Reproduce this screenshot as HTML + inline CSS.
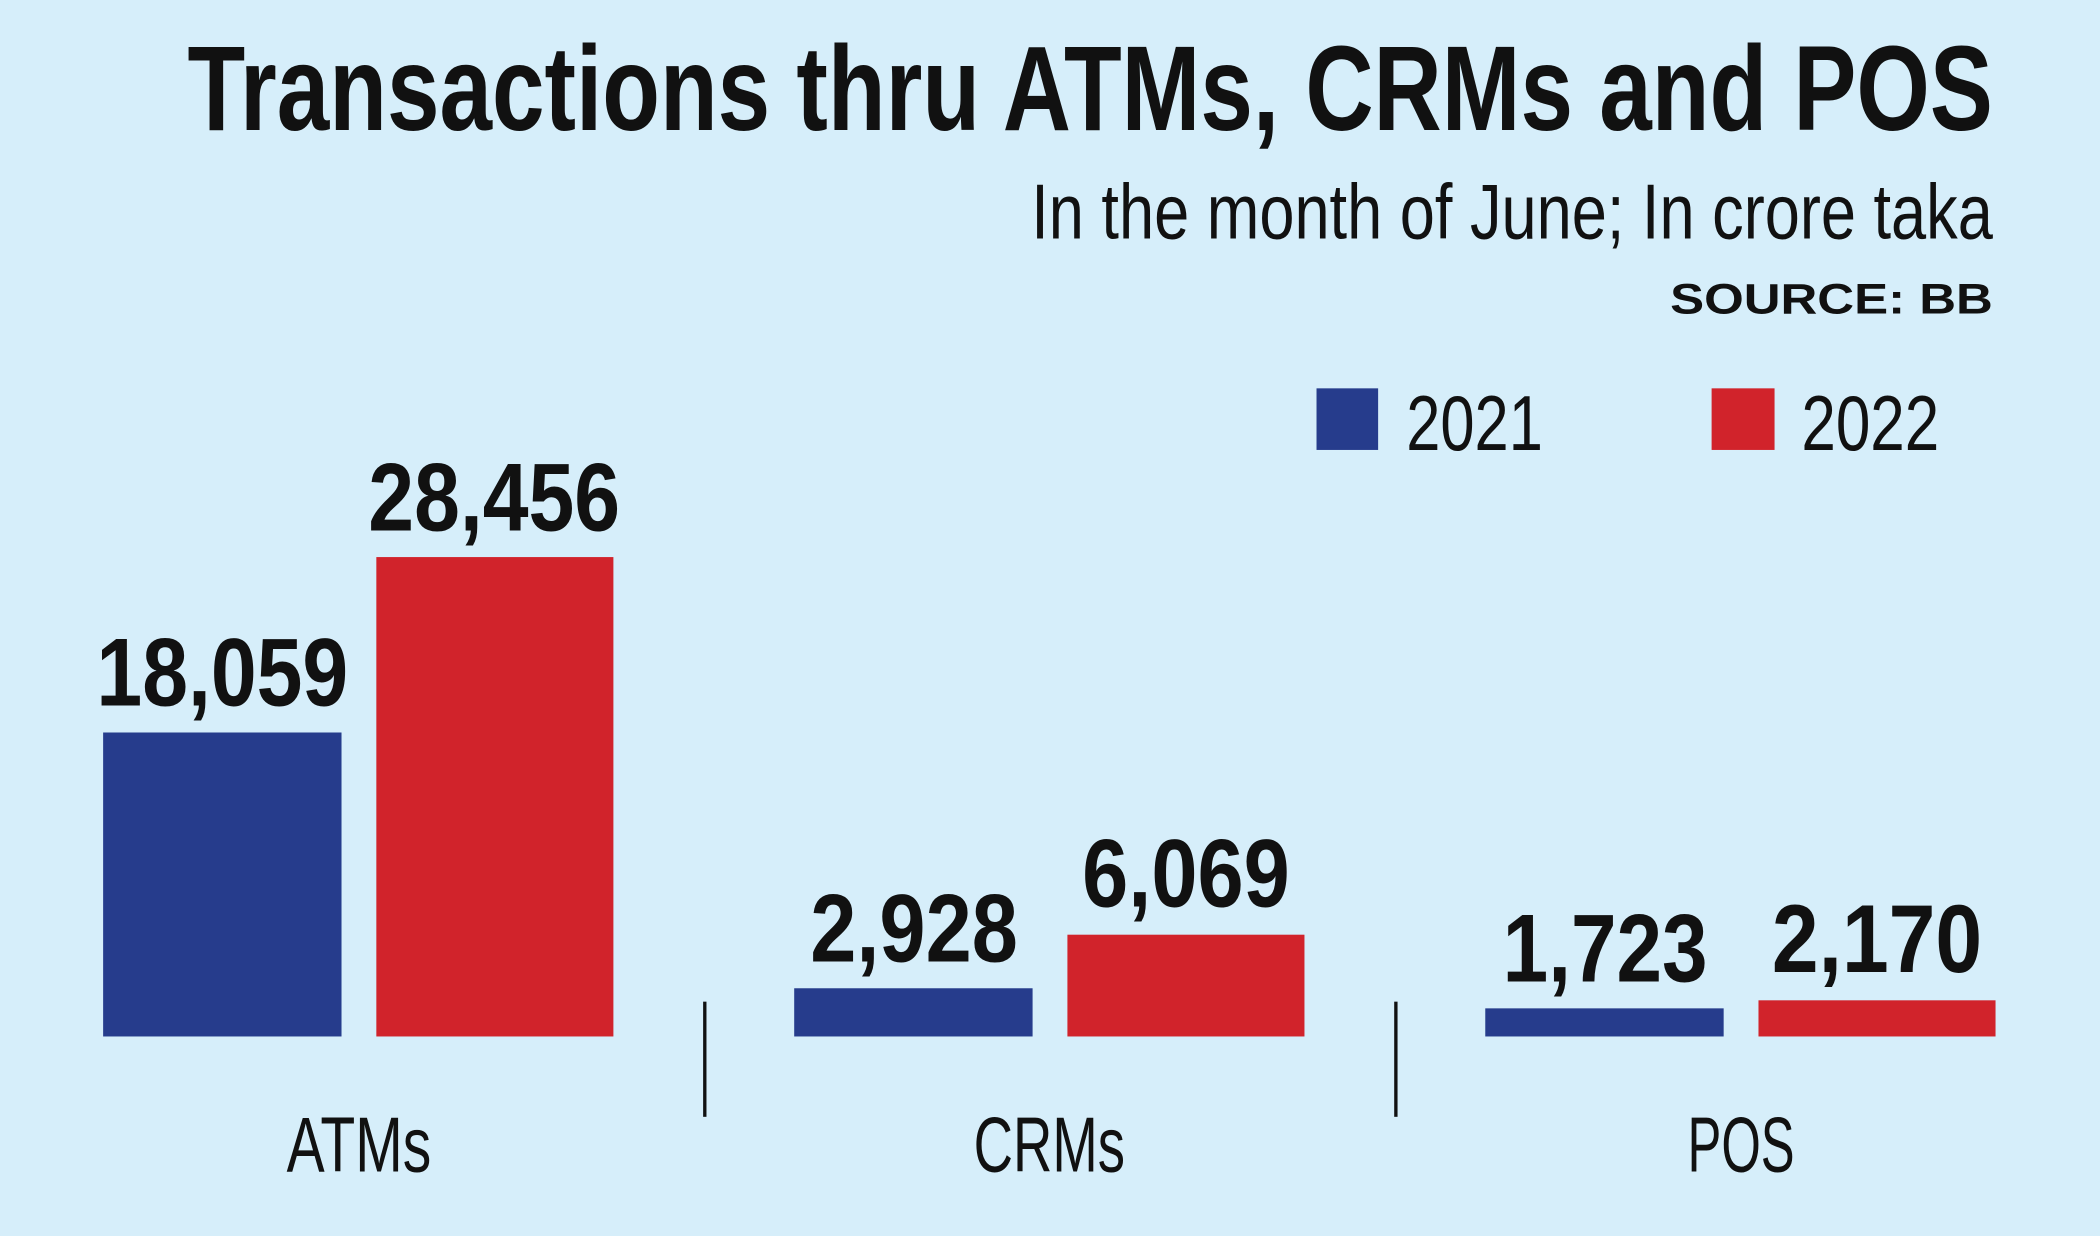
<!DOCTYPE html>
<html><head><meta charset="utf-8"><style>
html,body{margin:0;padding:0;background:#d6eefa;}
svg{display:block;}
text{font-family:"Liberation Sans",sans-serif;fill:#111;}
</style></head><body>
<svg width="2100" height="1236" viewBox="0 0 1568 923" preserveAspectRatio="none" xmlns="http://www.w3.org/2000/svg">
<rect x="0" y="0" width="1568" height="923" fill="#d6eefa"/>
<text x="140" y="97" font-size="90" font-weight="bold" textLength="1348" lengthAdjust="spacingAndGlyphs">Transactions thru ATMs, CRMs and POS</text>
<text x="770" y="178" font-size="58" textLength="718" lengthAdjust="spacingAndGlyphs">In the month of June; In crore taka</text>
<text x="1247" y="234" font-size="32" font-weight="bold" textLength="241" lengthAdjust="spacingAndGlyphs">SOURCE: BB</text>
<rect x="983" y="290" width="46" height="46" fill="#263c8c"/>
<text x="1050" y="336" font-size="58" textLength="102" lengthAdjust="spacingAndGlyphs">2021</text>
<rect x="1278" y="290" width="47" height="46" fill="#d1232b"/>
<text x="1345" y="336" font-size="58" textLength="103" lengthAdjust="spacingAndGlyphs">2022</text>
<rect x="77" y="547" width="178" height="227" fill="#263c8c"/>
<rect x="281" y="416" width="177" height="358" fill="#d1232b"/>
<rect x="593" y="738" width="178" height="36" fill="#263c8c"/>
<rect x="797" y="698" width="177" height="76" fill="#d1232b"/>
<rect x="1109" y="753" width="178" height="21" fill="#263c8c"/>
<rect x="1313" y="747" width="177" height="27" fill="#d1232b"/>
<g font-size="72" font-weight="bold">
<text x="72" y="527" textLength="188" lengthAdjust="spacingAndGlyphs">18,059</text>
<text x="275" y="396" textLength="188" lengthAdjust="spacingAndGlyphs">28,456</text>
<text x="605" y="718" textLength="155" lengthAdjust="spacingAndGlyphs">2,928</text>
<text x="808" y="677" textLength="155" lengthAdjust="spacingAndGlyphs">6,069</text>
<text x="1122" y="733" textLength="153" lengthAdjust="spacingAndGlyphs">1,723</text>
<text x="1323" y="726" textLength="157" lengthAdjust="spacingAndGlyphs">2,170</text>
</g>
<rect x="525" y="748" width="2.5" height="86" fill="#111"/>
<rect x="1041" y="748" width="2.5" height="86" fill="#111"/>
<g font-size="58">
<text x="214" y="875" textLength="108" lengthAdjust="spacingAndGlyphs">ATMs</text>
<text x="727" y="875" textLength="113" lengthAdjust="spacingAndGlyphs">CRMs</text>
<text x="1260" y="875" textLength="80" lengthAdjust="spacingAndGlyphs">POS</text>
</g>
</svg>
</body></html>
